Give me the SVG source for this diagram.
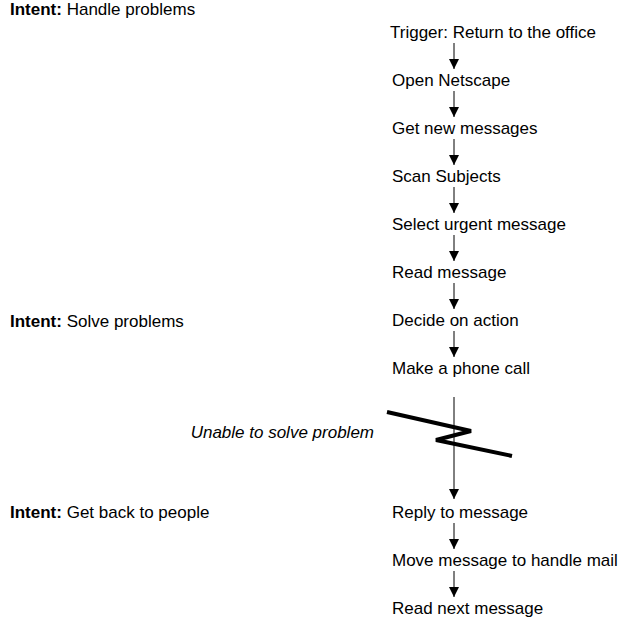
<svg xmlns="http://www.w3.org/2000/svg" width="618" height="620" viewBox="0 0 618 620">
  <style>
    text { font-family: "Liberation Sans", Arial, sans-serif; font-size: 17px; fill: #000; }
    .b { font-weight: bold; }
    .it { font-style: italic; }
    .flow { stroke: #000; stroke-width: 1; fill: none; }
    .zig { stroke: #000; stroke-width: 4; fill: none; stroke-linejoin: miter; }
  </style>
  <defs>
    <marker id="head" viewBox="0 0 10 10" refX="10" refY="5" markerWidth="10" markerHeight="10" markerUnits="userSpaceOnUse" orient="auto">
      <path d="M0,0 L10,5 L0,10 Z" fill="#000"/>
    </marker>
  </defs>
  <rect width="618" height="620" fill="#fff"/>

  <!-- intent labels -->
  <g id="intent-handle"><text x="10" y="15"><tspan class="b">Intent:</tspan> Handle problems</text></g>
  <g id="intent-solve"><text x="10" y="327"><tspan class="b">Intent:</tspan> Solve problems</text></g>
  <g id="intent-back"><text x="10" y="518"><tspan class="b">Intent:</tspan> Get back to people</text></g>

  <!-- steps -->
  <g id="trigger"><text x="390" y="38">Trigger: Return to the office</text></g>
  <g id="open-netscape"><text x="392" y="86">Open Netscape</text></g>
  <g id="get-messages"><text x="392" y="134">Get new messages</text></g>
  <g id="scan-subjects"><text x="392" y="182">Scan Subjects</text></g>
  <g id="select-urgent"><text x="392" y="230">Select urgent message</text></g>
  <g id="read-message"><text x="392" y="278">Read message</text></g>
  <g id="decide"><text x="392" y="326">Decide on action</text></g>
  <g id="phone-call"><text x="392" y="374">Make a phone call</text></g>
  <g id="unable"><text class="it" x="374" y="438" text-anchor="end">Unable to solve problem</text></g>
  <g id="reply"><text x="392" y="518">Reply to message</text></g>
  <g id="move"><text x="392" y="566">Move message to handle mail</text></g>
  <g id="read-next"><text x="392" y="614">Read next message</text></g>

  <!-- connectors -->
  <g id="connectors">
    <line class="flow" x1="454" y1="43" x2="454" y2="69" marker-end="url(#head)"/>
    <line class="flow" x1="454" y1="91" x2="454" y2="117" marker-end="url(#head)"/>
    <line class="flow" x1="454" y1="139" x2="454" y2="165" marker-end="url(#head)"/>
    <line class="flow" x1="454" y1="187" x2="454" y2="213" marker-end="url(#head)"/>
    <line class="flow" x1="454" y1="235" x2="454" y2="261" marker-end="url(#head)"/>
    <line class="flow" x1="454" y1="283" x2="454" y2="309" marker-end="url(#head)"/>
    <line class="flow" x1="454" y1="331" x2="454" y2="357" marker-end="url(#head)"/>
    <line class="flow" x1="454" y1="397" x2="454" y2="499" marker-end="url(#head)"/>
    <line class="flow" x1="454" y1="523" x2="454" y2="549" marker-end="url(#head)"/>
    <line class="flow" x1="454" y1="571" x2="454" y2="597" marker-end="url(#head)"/>
    <!-- break symbol -->
    <polyline class="zig" points="387,412 471,431 436,440 512,456"/>
  </g>
</svg>
